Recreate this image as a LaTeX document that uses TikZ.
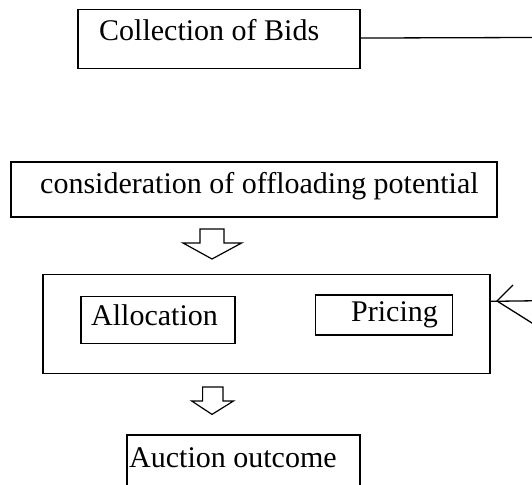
\documentclass[tikz,border=0pt]{standalone}
\usepackage{fontspec}
\setmainfont{Liberation Serif}
\usetikzlibrary{calc}
\begin{document}
\begin{tikzpicture}[x=1pt,y=-1pt,
  box/.style={draw, line width=1.5pt, inner sep=0pt, anchor=north west},
  lbl/.style={font=\fontsize{30}{35}\selectfont, inner sep=0pt, anchor=base west},
  conn/.style={line width=1.3pt},
  blockarrow/.style={draw, line width=1.2pt, line join=miter, fill=white}]
\useasboundingbox (0,0) rectangle (532,484);
\clip (0,0) rectangle (532,484);
% boxes
\node[box, minimum width=282pt, minimum height=59pt] (bids) at (77,9) {};
\node[box, minimum width=486pt, minimum height=55pt] (cons) at (10,161) {};
\node[box, minimum width=447pt, minimum height=99pt] (proc) at (42,273.6) {};
\node[box, minimum width=154pt, minimum height=47pt] (alloc) at (80,295.6) {};
\node[box, minimum width=137pt, minimum height=40pt] (price) at (314.6,294) {};
\node[box, minimum width=233pt, minimum height=80pt] (outc) at (126,434) {};
% texts
\node[lbl] (tbids) at (99,40.7) {Collection of Bids};
\node[lbl] (tcons) at (40,193) {consideration of offloading potential};
\node[lbl] (talloc) at (91,325) {Allocation};
\node[lbl] (tprice) at (351,321) {Pricing};
\node[lbl] (toutc) at (129,467) {Auction outcome};
% block arrows
\draw[blockarrow] (200,229) -- (224,229) -- (224,243) -- (241.6,243) -- (212,259)
  -- (183,243) -- (200,243) -- cycle;
\draw[blockarrow] (202.6,387) -- (223,387) -- (223,401) -- (233.5,401) -- (212,414.4)
  -- (191.7,401) -- (202.6,401) -- cycle;
% connectors
\coordinate (bidsend) at (532,37.5);
\draw[conn] ($(bids.north east)!0.48!(bids.south east)$) -- (bidsend);
\coordinate (procin) at (532,300.8);
\coordinate (tip) at (497,301);
\coordinate (barbup) at (513,285);
\coordinate (barblow) at (560,340.6);
\draw[conn] ($(proc.north east)!0.276!(proc.south east)$) -- (procin);
\draw[conn] (barbup) -- (tip) -- (barblow);
\end{tikzpicture}
\end{document}
